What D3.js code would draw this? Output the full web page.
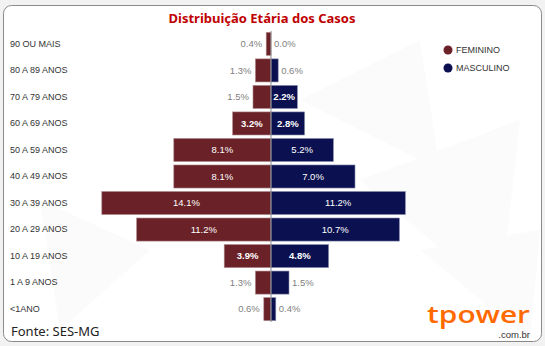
<!DOCTYPE html>
<html><head><meta charset="utf-8">
<script src="https://cdn.jsdelivr.net/npm/d3@7"></script>
<style>html,body{margin:0;padding:0;background:#f3f3f3;}svg{display:block;}</style>
</head><body>
<script>
const categories = ["90 OU MAIS","80 A 89 ANOS","70 A 79 ANOS","60 A 69 ANOS","50 A 59 ANOS","40 A 49 ANOS","30 A 39 ANOS","20 A 29 ANOS","10 A 19 ANOS","1 A 9 ANOS","<1ANO"];
const feminino = [0.4,1.3,1.5,3.2,8.1,8.1,14.1,11.2,3.9,1.3,0.6];
const masculino = [0.0,0.6,2.2,2.8,5.2,7.0,11.2,10.7,4.8,1.5,0.4];
const seriesNames = ["FEMININO","MASCULINO"];
const title = "Distribuição Etária dos Casos";
const source = "Fonte: SES-MG";

const W = 545, H = 346;
const colF = "#6a2228", colM = "#0b1150";
const svg = d3.select("body").append("svg").attr("width", W).attr("height", H);

svg.append("rect").attr("width", W).attr("height", H).attr("fill", "#f2f2f2");
svg.append("rect").attr("x", 3.5).attr("y", 5.5).attr("width", 538).attr("height", 336)
  .attr("rx", 8).attr("fill", "#ffffff").attr("stroke", "#8a8a8a").attr("stroke-width", 1);
const tri = [[[300,100],[420,40],[440,170]],[[360,180],[520,120],[500,300]],[[40,200],[150,250],[60,330]],[[420,250],[540,230],[530,340]]];
svg.append("g").selectAll("path").data(tri).join("path")
  .attr("d", d => "M" + d.join("L") + "Z").attr("fill", "#fbfbfb");

svg.append("text").attr("x", 262).attr("y", 23).attr("text-anchor", "middle")
  .attr("font-family", "Noto Sans, sans-serif").attr("font-weight", "bold").attr("font-size", 13)
  .attr("fill", "#c00000").text(title);

const cx = 271;
const x = d3.scaleLinear().domain([0, 1]).range([0, 12]);
const y = d3.scaleBand().domain(categories).range([30.5, 322.5]).paddingInner(0.13).paddingOuter(0.07);

const g = svg.append("g");
g.selectAll("rect.f").data(categories).join("rect").attr("class","f")
  .attr("x", (d,i) => cx - x(feminino[i])).attr("y", d => y(d))
  .attr("width", (d,i) => x(feminino[i])).attr("height", y.bandwidth())
  .attr("fill", colF).attr("stroke", "#b08a8d").attr("stroke-width", 0.6);
g.selectAll("rect.m").data(categories).join("rect").attr("class","m")
  .attr("x", cx).attr("y", d => y(d))
  .attr("width", (d,i) => x(masculino[i])).attr("height", y.bandwidth())
  .attr("fill", colM).attr("stroke", "#8a8fb0").attr("stroke-width", 0.6);

svg.append("line").attr("x1", cx).attr("x2", cx).attr("y1", 31).attr("y2", 322)
  .attr("stroke", "#8c8c8c").attr("stroke-width", 1);

const yAxis = d3.axisLeft(y).tickSize(0).tickPadding(0);
const ax = svg.append("g").attr("transform", "translate(10,0)").call(yAxis);
ax.select(".domain").remove();
ax.selectAll("text").attr("text-anchor", "start").attr("x", 0).attr("dy", "0.32em")
  .attr("font-family", "Liberation Sans, Arial, sans-serif").attr("font-size", 9).attr("fill", "#333");

function fmt(v){ return v.toFixed(1) + "%"; }
const thr = 2;
function labels(vals, side){
  svg.append("g").selectAll("text").data(categories).join("text")
    .attr("x", (d,i) => {
      const w = x(vals[i]);
      if (vals[i] >= thr) return side < 0 ? cx - w/2 : cx + w/2;
      return side < 0 ? cx - w - 4 : cx + w + 3;
    })
    .attr("y", d => y(d) + y.bandwidth()/2).attr("dy", "0.35em")
    .attr("text-anchor", (d,i) => vals[i] >= thr ? "middle" : (side < 0 ? "end" : "start"))
    .attr("font-family", "Liberation Sans, Arial, sans-serif").attr("font-size", 9.5)
    .attr("font-weight", (d,i) => vals[i] >= thr && vals[i] < 5 ? "bold" : "normal")
    .attr("fill", (d,i) => vals[i] >= thr ? "#ffffff" : "#7f7f7f")
    .text((d,i) => fmt(vals[i]));
}
labels(feminino, -1);
labels(masculino, 1);

const leg = svg.append("g").selectAll("g").data(seriesNames).join("g")
  .attr("transform", (d,i) => `translate(448,${50 + i*18})`);
leg.append("circle").attr("r", 4.5).attr("fill", (d,i) => i ? colM : colF);
leg.append("text").attr("x", 8).attr("dy", "0.35em")
  .attr("font-family", "Liberation Sans, Arial, sans-serif").attr("font-size", 9).attr("fill", "#333").text(d => d);

svg.append("text").attr("x", 11).attr("y", 336).attr("font-family", "Noto Sans, sans-serif")
  .attr("font-size", 13).attr("fill", "#222").text(source);

svg.append("text").attr("x", 427).attr("y", 323).attr("font-family", "Open Sans, sans-serif")
  .attr("font-weight", 600).attr("font-size", 23).attr("fill", "#ff6a00")
  .attr("textLength", 103).attr("lengthAdjust", "spacingAndGlyphs").text("tpower");
svg.append("text").attr("x", 530).attr("y", 338).attr("text-anchor", "end")
  .attr("font-family", "Liberation Sans, Arial, sans-serif").attr("font-size", 9.5).attr("fill", "#333").text(".com.br");
</script>
</body></html>
